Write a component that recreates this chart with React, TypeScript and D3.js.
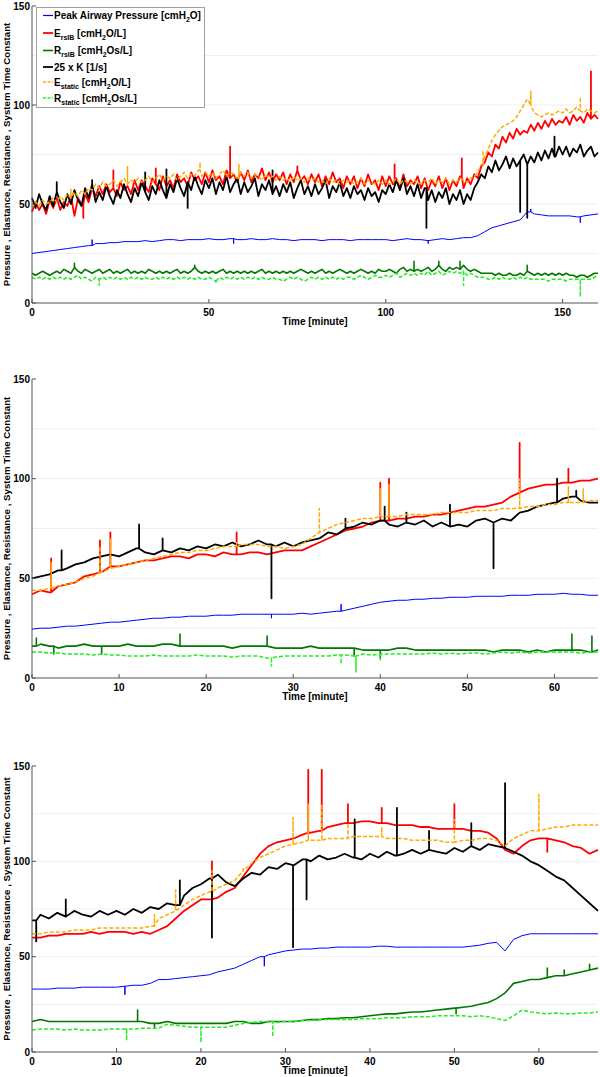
import React from 'react';
import * as d3 from 'd3';

// ---------------- Panel 1 (0–160 min) ----------------
const p1Time = d3.range(0, 161, 1);
const p1PeakTime = d3.range(0, 161, 2);
const p1Peak = [
  25, 25.5, 26, 26.5, 27, 27.5, 28, 28.5, 29, 30,
  30, 30.5, 30.5, 31, 31, 31, 31.5, 31, 31.5, 32,
  32, 31.5, 32, 32, 32, 32.5, 32, 32, 32.5, 32,
  32, 32.5, 32, 32, 32.5, 32, 32, 31.5, 32, 32,
  32, 31.5, 32, 32, 32, 31.5, 32, 32, 32, 32,
  32, 31.5, 32, 32.5, 32, 32, 31.5, 32, 32.5, 32,
  32.5, 33, 33, 34, 36, 38, 39, 40, 41, 42,
  46, 45, 44.5, 44, 44, 44, 44, 43.5, 44, 44.5,
  45,
];
const p1Ersib = [
  46, 51, 47, 50, 45, 52, 48, 53, 47, 51,
  49, 54, 44, 53, 50, 55, 51, 58, 54, 59,
  55, 60, 56, 58, 54, 61, 57, 59, 55, 62,
  57, 62, 59, 56, 63, 60, 57, 64, 59, 62,
  58, 65, 61, 63, 59, 66, 62, 64, 60, 66,
  61, 67, 62, 64, 60, 67, 63, 65, 61, 66,
  62, 67, 61, 65, 63, 68, 62, 66, 61, 65,
  62, 66, 60, 65, 61, 67, 62, 64, 60, 65,
  61, 65, 59, 64, 60, 66, 61, 63, 58, 64,
  60, 64, 58, 63, 59, 65, 60, 62, 57, 64,
  59, 64, 60, 63, 58, 65, 59, 62, 60, 64,
  58, 63, 57, 62, 59, 64, 58, 63, 57, 62,
  59, 64, 58, 63, 60, 65, 63, 69, 71, 76,
  74, 80, 78, 84, 81, 86, 83, 88, 85, 87,
  86, 90, 87, 91, 88, 92, 89, 93, 90, 92,
  91, 94, 90, 95, 92, 94, 91, 96, 93, 95,
  93,
];
const p1Rrsib = [
  15, 14, 15, 16, 15, 14, 15, 16, 15, 17,
  16, 15, 18, 16, 15, 17, 16, 15, 16, 17,
  15, 16, 17, 15, 16, 15, 16, 17, 15, 16,
  15, 16, 15, 17, 16, 15, 16, 15, 16, 15,
  16, 17, 15, 16, 15, 16, 18, 16, 15, 16,
  15, 16, 15, 16, 17, 15, 16, 15, 16, 15,
  16, 15, 16, 15, 16, 17, 15, 16, 15, 16,
  15, 16, 15, 16, 15, 16, 17, 16, 15, 16,
  15, 16, 17, 15, 16, 15, 16, 17, 16, 15,
  16, 15, 16, 17, 16, 15, 16, 15, 17, 16,
  16, 17, 16, 15, 17, 18, 16, 17, 16, 17,
  16, 17, 18, 16, 17, 19, 17, 16, 18, 17,
  18, 17, 19, 17, 16, 17, 16, 15, 15, 15,
  15, 14, 15, 14, 14, 15, 14, 14, 15, 14,
  16, 15, 14, 15, 14, 15, 14, 15, 14, 15,
  14, 15, 14, 14, 13, 14, 14, 13, 14, 15,
  15,
];
const p1K = [
  53, 48, 55, 50, 47, 54, 49, 56, 51, 48,
  55, 50, 57, 52, 49, 58, 53, 60, 51, 56,
  52, 59, 54, 50, 57, 53, 60, 55, 51, 58,
  54, 61, 56, 52, 59, 55, 62, 57, 53, 60,
  56, 63, 58, 54, 61, 57, 64, 59, 55, 62,
  58, 63, 55, 61, 57, 64, 56, 60, 63, 55,
  61, 56, 59, 63, 54, 60, 57, 62, 55, 59,
  54, 60, 56, 61, 53, 58, 62, 55, 59, 54,
  60, 55, 58, 62, 53, 59, 56, 61, 54, 58,
  53, 59, 55, 57, 52, 58, 54, 56, 51, 57,
  55, 60, 56, 62, 57, 63, 55, 59, 54, 60,
  53, 58, 52, 57, 51, 56, 53, 58, 50, 55,
  52, 57, 50, 55, 52, 58, 61, 65, 63, 69,
  66, 72, 67, 70, 74, 68, 73, 69, 72, 75,
  70, 74, 71, 76, 72, 77, 73, 78, 74, 79,
  75, 79, 74, 78, 76, 80, 74, 77, 79, 74,
  76,
];
const p1Estatic = [
  48, 51, 49, 52, 50, 51, 53, 51, 54, 52,
  55, 53, 56, 54, 57, 55, 58, 57, 60, 58,
  61, 59, 60, 62, 59, 61, 63, 60, 62, 61,
  63, 61, 62, 64, 61, 63, 65, 62, 64, 63,
  65, 62, 64, 66, 63, 65, 64, 67, 64, 66,
  64, 66, 63, 65, 67, 64, 66, 65, 63, 66,
  64, 66, 63, 65, 64, 62, 65, 63, 64, 62,
  64, 62, 63, 61, 64, 62, 63, 61, 63, 62,
  63, 61, 62, 60, 63, 61, 62, 60, 62, 61,
  62, 60, 61, 63, 60, 62, 61, 60, 62, 60,
  62, 60, 61, 63, 60, 62, 61, 60, 62, 61,
  60, 62, 61, 63, 60, 62, 61, 63, 60, 62,
  61, 63, 62, 61, 63, 64, 66, 70, 74, 78,
  82, 85, 87, 89, 90, 91, 92, 94, 97, 100,
  103, 100, 96, 95, 94, 95, 96, 95, 96, 97,
  96, 98, 96, 97, 99, 97, 96, 98, 97, 96,
  97,
];
const p1Rstatic = [
  13, 12, 13, 12, 13, 12, 13, 12, 13, 12,
  13, 12, 13, 14, 12, 13, 12, 11, 13, 12,
  13, 12, 13, 12, 13, 12, 13, 12, 13, 12,
  13, 12, 13, 12, 12, 13, 12, 13, 12, 13,
  12, 13, 12, 13, 12, 13, 12, 13, 12, 12,
  13, 12, 11, 13, 12, 13, 12, 13, 12, 13,
  12, 13, 12, 13, 12, 13, 12, 12, 13, 12,
  12, 11, 12, 13, 12, 13, 12, 11, 12, 13,
  12, 13, 12, 13, 12, 13, 12, 13, 12, 13,
  13, 12, 13, 14, 13, 12, 13, 14, 13, 13,
  14, 13, 14, 15, 13, 14, 15, 14, 15, 14,
  15, 14, 16, 14, 15, 16, 14, 15, 16, 15,
  16, 15, 16, 14, 15, 14, 13, 13, 13, 12,
  12, 13, 12, 13, 12, 12, 13, 12, 13, 12,
  13, 12, 12, 12, 12, 12, 11, 12, 12, 12,
  12, 11, 12, 12, 12, 12, 12, 12, 12, 13,
  14,
];
const p1PeakSpikes = [[17, 32], [57, 30], [141, 47.5], [155, 40.5], [112, 30]];
const p1ErsibSpikes = [[14.5, 43], [23, 67], [56, 79], [102.5, 70], [121.5, 73], [158, 117], [35, 68], [75, 69]];
const p1RrsibSpikes = [[12, 20], [46, 19], [108, 21], [115, 21], [140, 19], [121, 21]];
const p1KSpikes = [[7, 61], [17, 62], [32, 66], [38, 67.5], [68, 67], [111.5, 38], [138, 46], [140, 43], [147.7, 84], [44, 48]];
const p1EstaticSpikes = [[11, 57.5], [27, 69], [47.5, 71], [58.5, 70], [127.5, 77], [141, 107], [155, 104]];
const p1RstaticSpikes = [[19, 9], [52, 10], [155, 3], [122, 9]];

// ---------------- Panel 2 (0–65 min) ----------------
const p2Time = d3.range(0, 66, 1);
const p2Peak = [
  24.5, 25, 25, 25.5, 26, 26, 26.5, 27, 27.5, 28,
  28, 28.5, 29, 29.5, 30, 30, 30.5, 30.5, 31, 31,
  31, 31.5, 31.5, 31.5, 32, 32, 32, 32, 32, 32,
  32, 32.5, 32, 32.5, 33, 33.5, 34, 35, 36, 37,
  38, 38.5, 39, 39, 39.5, 39.5, 40, 40, 40.5, 40.5,
  40.5, 41, 41, 41, 41, 41.5, 41.5, 41.5, 42, 42,
  42, 42.5, 42, 42, 41.5, 41.5,
];
const p2Ersib = [
  42, 44, 43, 46, 47, 48, 51, 52, 53, 56,
  56, 57, 58, 59, 59, 60, 61, 61, 60, 62,
  62, 61, 63, 62, 62, 63, 63, 62, 63, 64,
  64, 64, 66, 68, 70, 72, 74, 75, 76, 78,
  79, 79, 80, 80, 81, 81, 82, 82, 83, 84,
  85, 86, 86, 87, 88, 91, 93, 95, 96, 97,
  97, 98, 98, 99, 99, 100,
];
const p2Rrsib = [
  16, 17, 16, 15, 16, 16, 17, 16, 16, 16,
  16, 17, 16, 16, 16, 17, 17, 16, 16, 16,
  16, 16, 16, 15, 16, 16, 16, 16, 15, 15,
  15, 15, 16, 15, 15, 15, 15, 15, 14, 14,
  14, 14, 15, 15, 14, 14, 14, 14, 14, 14,
  14, 14, 14, 13, 14, 14, 14, 13, 14, 13,
  14, 14, 14, 14, 13, 14,
];
const p2K = [
  50, 51, 52, 54, 55, 57, 58, 60, 61, 62,
  61, 63, 65, 63, 62, 64, 63, 65, 64, 66,
  65, 67, 66, 68, 66, 67, 69, 67, 66, 68,
  66, 68, 69, 70, 73, 72, 75, 76, 78, 77,
  79, 77, 76, 78, 77, 79, 76, 78, 76, 77,
  76, 79, 80, 78, 80, 79, 83, 84, 86, 87,
  88, 90, 91, 89, 88, 88,
];
const p2Estatic = [
  44, 44, 45, 46, 47, 48, 50, 51, 53, 55,
  56, 57, 58, 59, 60, 61, 62, 63, 63, 64,
  64, 65, 66, 66, 67, 67, 67, 66, 66, 65,
  66, 67, 70, 73, 75, 77, 78, 79, 80, 80,
  81, 81, 81, 82, 82, 82, 82, 83, 83, 83,
  83, 84, 84, 84, 85, 85, 85, 86, 86, 87,
  87, 88, 88, 88, 89, 89,
];
const p2Rstatic = [
  13, 13, 12.5, 12.5, 12, 12, 12, 11.5, 12, 11.5,
  11.5, 11, 11, 11, 11.5, 11, 11, 11, 11, 11.5,
  11, 11, 11, 10.5, 11, 11, 11, 10, 10.5, 11,
  11, 11, 11, 11, 11, 11.5, 11.5, 11, 12, 11.5,
  12, 12, 12, 12, 12, 12, 12.5, 12, 12.5, 12,
  12.5, 12.5, 12, 12.5, 13, 12.5, 13, 12.5, 13, 13,
  13, 13, 13, 12.5, 13, 13,
];
const p2PeakSpikes = [[27.5, 30], [35.5, 37]];
const p2ErsibSpikes = [[2.2, 60], [7.8, 69], [9, 73], [23.5, 73], [40, 98], [41, 100], [56, 118], [61.6, 105]];
const p2RrsibSpikes = [[0.5, 20], [2.5, 12], [8, 12], [17, 22], [27, 21], [37, 11], [40, 10], [62, 22], [64.3, 21]];
const p2KSpikes = [[3.4, 64], [12.3, 77], [15, 70], [27.5, 40], [36, 80], [40.5, 86], [43, 83], [48, 87], [53, 55], [60.3, 100], [62.5, 94]];
const p2EstaticSpikes = [[2.2, 58], [7.8, 66], [9, 70], [23.5, 68], [33, 85], [40, 95], [41, 97], [56, 100], [61.6, 96], [63.3, 95]];
const p2RstaticSpikes = [[27.5, 6], [35.5, 7], [37.2, 3], [40, 9]];

// ---------------- Panel 3 (0–67 min) ----------------
const p3Time = d3.range(0, 68, 1);
const p3Peak = [
  33, 33, 33, 33.5, 33.5, 33.5, 34, 34, 34, 34,
  34, 34.5, 35, 35, 36, 38, 38, 38.5, 39, 39.5,
  40, 40.5, 42, 43, 44, 46, 48, 50, 51, 52,
  53, 53.5, 54, 54, 54.5, 54.5, 55, 55, 55, 55,
  55, 55.5, 55.5, 55, 55, 55, 55, 55, 55, 55,
  55, 55, 55.5, 56, 57, 57.5, 53, 59, 61, 62,
  62, 62, 62, 62, 62, 62, 62, 62,
];
const p3Ersib = [
  60, 60, 61, 61, 62, 62, 62, 63, 62, 63,
  63, 63, 62, 63, 62, 64, 66, 70, 74, 77,
  80, 80, 81, 84, 86, 92, 98, 104, 108, 110,
  111, 112, 114, 115, 116, 118, 119, 120, 120, 121,
  121, 120, 120, 119, 119, 119, 118, 118, 117, 117,
  117, 117, 116, 116, 115, 112, 106, 104, 108, 111,
  112, 112, 111, 110, 108, 107, 104, 106,
];
const p3Rrsib = [
  16, 17, 16, 16, 16, 16, 16, 16, 16, 16,
  16, 16, 16, 16, 15, 15, 16, 15, 15, 15,
  15, 15, 15, 15, 16, 16, 15, 15, 16, 16,
  16, 16, 16.5, 17, 17, 17.5, 17.5, 18, 18, 18.5,
  19, 19.5, 20, 20, 20.5, 21, 21, 21.5, 22, 22.5,
  23, 23.5, 24, 25, 26, 28, 31, 36, 37, 38,
  38, 39, 40, 40, 41, 42, 43, 44,
];
const p3K = [
  69, 72, 70, 73, 71, 74, 72, 71, 74, 72,
  74, 72, 75, 73, 76, 75, 78, 77, 82, 86,
  88, 91, 93, 89, 87, 91, 94, 93, 97, 96,
  99, 98, 101, 100, 103, 101, 102, 104, 102, 101,
  104, 102, 105, 103, 104, 106, 104, 106, 105, 104,
  107, 105, 108, 106, 109, 108, 107, 105, 103, 100,
  98, 95, 92, 90, 86, 82, 78, 74,
];
const p3Estatic = [
  62, 62, 63, 63, 63, 64, 64, 64, 65, 65,
  65, 65, 65, 65, 66, 70, 72, 74, 77, 80,
  82, 84, 86, 88, 90, 95, 99, 102, 104, 106,
  108, 109, 110, 111, 111, 112, 112, 112, 113, 113,
  113, 113, 112, 112, 112, 111, 111, 111, 111, 110,
  110, 111, 111, 112, 112, 111, 108, 112, 114, 116,
  116, 117, 118, 118, 119, 119, 119, 119,
];
const p3Rstatic = [
  11.5, 12, 12, 12, 11.5, 12, 11.5, 11.5, 11.5, 12,
  12, 12, 12, 12.5, 12.5, 12.5, 14.5, 14, 13.5, 13,
  13, 13, 13, 13, 14, 15, 15.5, 16, 16, 15.5,
  16, 16, 16.5, 16.5, 17, 17, 17, 17, 17, 17.5,
  17.5, 17.5, 18, 18, 18, 18.5, 18.5, 18.5, 19, 19,
  19, 19, 18.5, 19, 18.5, 17.5, 16.5, 19, 22, 21,
  20.5, 20, 20.5, 20, 20, 20.5, 20.5, 21,
];
const p3PeakSpikes = [[11, 30], [27.5, 45]];
const p3ErsibSpikes = [[21.3, 100], [32.7, 148], [34.3, 148], [37.4, 130], [41.4, 128], [50, 130], [61, 105]];
const p3RrsibSpikes = [[12.5, 22], [14.5, 13], [50.2, 20], [61, 44], [63, 43], [66, 46]];
const p3KSpikes = [[0.5, 58], [4, 80], [17.5, 90], [21.3, 60], [30.9, 55], [32.5, 80], [38.2, 122], [43.2, 128], [47, 116], [52, 120], [56, 141]];
const p3EstaticSpikes = [[14.5, 72], [17, 85], [21.3, 95], [25, 97], [30.9, 123], [32.7, 130], [34.3, 130], [37.4, 120], [41.4, 118], [50, 122], [60, 135]];
const p3RstaticSpikes = [[11.2, 6], [20, 5], [28.5, 8]];

// ---------------- Axis ticks ----------------
const yTicks = [0, 50, 100, 150];
const yGrid = [25, 50, 75, 100, 125];
const p1XTicks = [0, 50, 100, 150];
const p2XTicks = [0, 10, 20, 30, 40, 50, 60];
const p3XTicks = [0, 10, 20, 30, 40, 50, 60];

// ---------------- styles ----------------
const FONT = '"Liberation Sans", Arial, Helvetica, sans-serif';
const STYLES = {
  peak: { color: '#0000ff', width: 1, dash: null as string | null },
  ersib: { color: '#ff0000', width: 1.8, dash: null },
  rrsib: { color: '#007800', width: 1.6, dash: null },
  k: { color: '#000000', width: 1.8, dash: null },
  estatic: { color: '#ffaa00', width: 1.5, dash: '4,2' },
  rstatic: { color: '#22ee22', width: 1.5, dash: '4,2' },
};

type Spike = number[];
function buildPoints(times: number[], values: number[], spikes: Spike[]) {
  const pts: { t: number; v: number; o: number }[] = times.map((t, i) => ({ t, v: values[i], o: 0 }));
  spikes.forEach(([ts, vp]) => {
    let idx = 0;
    let best = Infinity;
    times.forEach((t, i) => {
      const d = Math.abs(t - ts);
      if (d < best) { best = d; idx = i; }
    });
    const base = values[idx];
    pts.push({ t: ts, v: base, o: 1 }, { t: ts, v: vp, o: 2 }, { t: ts, v: base, o: 3 });
  });
  pts.sort((a, b) => (a.t - b.t) || (a.o - b.o));
  return pts;
}

const panels = [
  {
    top: 6, bottom: 303, xMax: 160, xTicks: p1XTicks, legend: true,
    series: [
      { key: 'peak', time: p1PeakTime, values: p1Peak, spikes: p1PeakSpikes },
      { key: 'ersib', time: p1Time, values: p1Ersib, spikes: p1ErsibSpikes },
      { key: 'rrsib', time: p1Time, values: p1Rrsib, spikes: p1RrsibSpikes },
      { key: 'k', time: p1Time, values: p1K, spikes: p1KSpikes },
      { key: 'estatic', time: p1Time, values: p1Estatic, spikes: p1EstaticSpikes },
      { key: 'rstatic', time: p1Time, values: p1Rstatic, spikes: p1RstaticSpikes },
    ],
  },
  {
    top: 379, bottom: 678, xMax: 65, xTicks: p2XTicks, legend: false,
    series: [
      { key: 'peak', time: p2Time, values: p2Peak, spikes: p2PeakSpikes },
      { key: 'ersib', time: p2Time, values: p2Ersib, spikes: p2ErsibSpikes },
      { key: 'rrsib', time: p2Time, values: p2Rrsib, spikes: p2RrsibSpikes },
      { key: 'k', time: p2Time, values: p2K, spikes: p2KSpikes },
      { key: 'estatic', time: p2Time, values: p2Estatic, spikes: p2EstaticSpikes },
      { key: 'rstatic', time: p2Time, values: p2Rstatic, spikes: p2RstaticSpikes },
    ],
  },
  {
    top: 766, bottom: 1052, xMax: 67, xTicks: p3XTicks, legend: false,
    series: [
      { key: 'peak', time: p3Time, values: p3Peak, spikes: p3PeakSpikes },
      { key: 'ersib', time: p3Time, values: p3Ersib, spikes: p3ErsibSpikes },
      { key: 'rrsib', time: p3Time, values: p3Rrsib, spikes: p3RrsibSpikes },
      { key: 'k', time: p3Time, values: p3K, spikes: p3KSpikes },
      { key: 'estatic', time: p3Time, values: p3Estatic, spikes: p3EstaticSpikes },
      { key: 'rstatic', time: p3Time, values: p3Rstatic, spikes: p3RstaticSpikes },
    ],
  },
];

const LEFT = 32;
const RIGHT = 598;

const legendRows = [
  { key: 'peak', main: 'Peak Airway Pressure [cmH', sub: '', tail: '2', end: 'O]', kind: 'peak' },
  { key: 'ersib', main: 'E', sub: 'rsIB', tail: '2', end: 'O/L]', kind: 'sub' },
  { key: 'rrsib', main: 'R', sub: 'rsIB', tail: '2', end: 'Os/L]', kind: 'sub' },
  { key: 'k', main: '25 x K [1/s]', sub: '', tail: '', end: '', kind: 'plain' },
  { key: 'estatic', main: 'E', sub: 'static', tail: '2', end: 'O/L]', kind: 'sub' },
  { key: 'rstatic', main: 'R', sub: 'static', tail: '2', end: 'Os/L]', kind: 'sub' },
];
const legendLineY = [15.5, 33, 50.5, 67, 82, 98];

function Legend() {
  return (
    <g>
      <rect x={36.5} y={7.5} width={168} height={100} fill="#fff" stroke="#a0a0a0" strokeWidth={1} />
      {legendRows.map((r, i) => {
        const st = (STYLES as any)[r.key];
        const ly = legendLineY[i];
        const by = ly + 3.5;
        return (
          <g key={r.key}>
            <line x1={43} x2={53} y1={ly} y2={ly} stroke={st.color} strokeWidth={r.key === 'peak' ? 1.2 : st.width}
              strokeDasharray={st.dash ? '3,1.5' : undefined} />
            <text x={54} y={by} fontFamily={FONT} fontWeight="bold" fontSize={10} fill="#000">
              {r.kind === 'peak' && (
                <>
                  <tspan>{r.main}</tspan>
                  <tspan dy={3} fontSize={7}>{r.tail}</tspan>
                  <tspan dy={-3}>{r.end}</tspan>
                </>
              )}
              {r.kind === 'plain' && <tspan>{r.main}</tspan>}
              {r.kind === 'sub' && (
                <>
                  <tspan>{r.main}</tspan>
                  <tspan dy={3} fontSize={7}>{r.sub}</tspan>
                  <tspan dy={-3}>{' [cmH'}</tspan>
                  <tspan dy={3} fontSize={7}>{r.tail}</tspan>
                  <tspan dy={-3}>{r.end}</tspan>
                </>
              )}
            </text>
          </g>
        );
      })}
    </g>
  );
}

function Panel({ p }: { p: typeof panels[number] }) {
  const x = d3.scaleLinear().domain([0, p.xMax]).range([LEFT, RIGHT]);
  const y = d3.scaleLinear().domain([0, 150]).range([p.bottom, p.top]);
  const line = d3.line<{ t: number; v: number }>().x(d => x(d.t)).y(d => y(d.v));
  const cy = (p.top + p.bottom) / 2;
  return (
    <g>
      {yGrid.map(g => (
        <line key={g} x1={LEFT} x2={RIGHT} y1={y(g)} y2={y(g)} stroke="#efefef" strokeWidth={1} />
      ))}
      {p.series.map(s => {
        const st = (STYLES as any)[s.key];
        const pts = buildPoints(s.time, s.values, s.spikes);
        return (
          <path key={s.key} d={line(pts) || ''} fill="none" stroke={st.color} strokeWidth={st.width}
            strokeDasharray={st.dash || undefined} strokeLinejoin="round" />
        );
      })}
      <line x1={LEFT} x2={LEFT} y1={p.top} y2={p.bottom} stroke="#555" strokeWidth={1} />
      <line x1={LEFT} x2={RIGHT} y1={p.bottom} y2={p.bottom} stroke="#555" strokeWidth={1} />
      {yTicks.map(t => (
        <g key={t}>
          <line x1={LEFT} x2={LEFT + 4} y1={y(t)} y2={y(t)} stroke="#555" strokeWidth={1} />
          <text x={LEFT - 2} y={y(t)} dy="0.35em" textAnchor="end" fontFamily={FONT} fontWeight="bold" fontSize={10}>{t}</text>
        </g>
      ))}
      {p.xTicks.map(t => (
        <g key={t}>
          <line x1={x(t)} x2={x(t)} y1={p.bottom} y2={p.bottom - 4} stroke="#555" strokeWidth={1} />
          <text x={x(t)} y={p.bottom + 13} textAnchor="middle" fontFamily={FONT} fontWeight="bold" fontSize={10}>{t}</text>
        </g>
      ))}
      <text x={(LEFT + RIGHT) / 2} y={p.bottom + 22} textAnchor="middle" fontFamily={FONT} fontWeight="bold" fontSize={10}>Time [minute]</text>
      <text transform={`translate(10, ${cy}) rotate(-90)`} textAnchor="middle" fontFamily={FONT} fontWeight="bold" fontSize={9.7}>
        Pressure , Elastance, Resistance , System Time Constant
      </text>
      {p.legend && <Legend />}
    </g>
  );
}

export default function App() {
  return (
    <svg width={600} height={1077} style={{ position: 'absolute', left: 0, top: 0, background: '#fff' }}>
      <rect x={0} y={0} width={600} height={1077} fill="#fff" />
      {panels.map((p, i) => <Panel key={i} p={p} />)}
    </svg>
  );
}
